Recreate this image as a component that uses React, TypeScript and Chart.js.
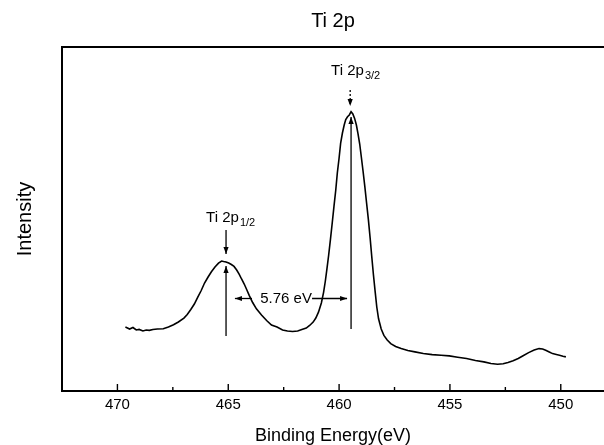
import React, { useEffect, useRef } from 'react';
import { Chart, registerables } from 'chart.js';

Chart.register(...registerables);

const FONT = '"Liberation Sans", Arial, Helvetica, sans-serif';

// Binding energy (eV) of the trace
const energy = [
  469.64, 469.45, 469.3, 469.15, 469.02, 468.85, 468.7, 468.56, 468.4, 468.2,
  467.93, 467.7, 467.47, 467.25, 467.0, 466.85, 466.69, 466.53, 466.38, 466.22,
  466.07, 465.91, 465.76, 465.6, 465.44, 465.3, 465.21, 465.1, 464.98, 464.86,
  464.74, 464.62, 464.51, 464.4, 464.28, 464.17, 464.05, 463.9, 463.73, 463.5,
  463.27, 463.05, 462.8, 462.55, 462.33, 462.1, 461.87, 461.68, 461.48, 461.33,
  461.17, 461.05, 460.93, 460.8, 460.7, 460.62, 460.55, 460.47, 460.39, 460.31,
  460.23, 460.15, 460.08, 460.0, 459.93, 459.85, 459.77, 459.7, 459.62, 459.54,
  459.46, 459.38, 459.3, 459.22, 459.15, 459.07, 459.0, 458.92, 458.84, 458.76,
  458.68, 458.6, 458.53, 458.45, 458.37, 458.3, 458.22, 458.1, 457.98, 457.83,
  457.67, 457.45, 457.2, 456.9, 456.58, 456.2, 455.8, 455.4, 455.03, 454.65,
  454.25, 453.85, 453.47, 453.15, 452.85, 452.6, 452.38, 452.15, 451.92, 451.7,
  451.45, 451.2, 450.98, 450.82, 450.68, 450.52, 450.37, 450.2, 450.06, 449.9,
  449.77,
];

// Intensity (arbitrary units)
const intensity = [
  64, 62, 63.5, 61, 61.6, 60, 61, 60.6, 61.5, 62,
  62.3, 64, 66.2, 69, 72.9, 76.5, 81.5, 87, 93.7, 100.5,
  108, 114, 119.3, 124, 127.9, 130, 129.5, 129, 128, 126.5,
  124.6, 121, 116.9, 112, 107, 101.5, 95.4, 88.5, 82.2, 76,
  70.5, 66, 63.9, 61, 60, 59.5, 60, 61.5, 62.9, 65.5,
  68.9, 73, 78.8, 88, 98.7, 110, 121.9, 136, 151.7, 168,
  184.9, 201, 218, 233, 247.8, 258, 266, 271.5, 274.3, 276,
  279.3, 277, 272.6, 266, 257.7, 247, 234.5, 220, 204.7, 188,
  171.6, 153, 135.2, 116, 98.7, 84, 72.2, 62, 55.6, 51,
  47.4, 44.5, 42.4, 40.5, 39.1, 37.5, 36.4, 35.8, 35.1, 33.8,
  32.5, 30.5, 29.1, 27.5, 26.8, 27.3, 28.5, 30.2, 32.5, 35.3,
  38.4, 41, 42.4, 42, 40.7, 39, 37.4, 36.5, 35.8, 34.8,
  34.1,
];

// Axis ranges and ticks
const xRange = [448.05, 472.5];
const yRange = [0, 344];
const minorStep = 2.5;
const majorStep = 5;

// Peak annotations
const peakNames = ['Ti 2p', 'Ti 2p'];
const peakSubscripts = ['3/2', '1/2'];
const labelEnergies = [460.36, 466.0];
const labelIntensities = [316.5, 169.5];
const downArrowEnergies = [459.5, 465.1];
const downArrowFrom = [301, 161];
const downArrowTo = [285, 137];
const downArrowDashed = [true, false];
const upArrowEnergies = [459.46, 465.1];
const upArrowFrom = [62, 55];
const upArrowTo = [274, 125];

// Spin-orbit splitting annotation
const splittingText = '5.76 eV';
const splittingTextEnergy = 462.39;
const splittingIntensity = 92.5;
const splitArrowStart = [463.93, 461.22];
const splitArrowEnd = [464.7, 459.64];

const isMajor = (v: number) => Math.abs(v / majorStep - Math.round(v / majorStep)) < 1e-6;

function drawArrow(ctx: CanvasRenderingContext2D, x1: number, y1: number, x2: number, y2: number, dashed = false) {
  ctx.beginPath();
  ctx.setLineDash(dashed ? [2, 2] : []);
  ctx.moveTo(x1, y1);
  ctx.lineTo(x2, y2);
  ctx.stroke();
  ctx.setLineDash([]);
  const a = Math.atan2(y2 - y1, x2 - x1);
  const L = 7;
  const W = 2.6;
  const c = Math.cos(a);
  const s = Math.sin(a);
  ctx.beginPath();
  ctx.moveTo(x2, y2);
  ctx.lineTo(x2 - L * c + W * s, y2 - L * s - W * c);
  ctx.lineTo(x2 - L * c - W * s, y2 - L * s + W * c);
  ctx.closePath();
  ctx.fill();
}

const annotationPlugin = {
  id: 'xpsAnnotations',
  afterDatasetsDraw(chart: any) {
    const { ctx, chartArea, scales } = chart;
    const { left, right, top, bottom } = chartArea;
    const x = scales.x;
    const y = scales.y;
    ctx.save();
    ctx.strokeStyle = '#000';
    ctx.fillStyle = '#000';

    // frame (left, top, bottom)
    ctx.lineWidth = 2;
    ctx.beginPath();
    ctx.moveTo(right, top);
    ctx.lineTo(left, top);
    ctx.lineTo(left, bottom);
    ctx.lineTo(right, bottom);
    ctx.stroke();

    // inward ticks
    ctx.lineWidth = 1.4;
    x.ticks.forEach((t: any) => {
      const px = x.getPixelForValue(t.value);
      const len = isMajor(t.value) ? 7 : 4;
      ctx.beginPath();
      ctx.moveTo(px, bottom);
      ctx.lineTo(px, bottom - len);
      ctx.stroke();
    });

    // peak arrows & labels
    ctx.lineWidth = 1.3;
    for (let i = 0; i < peakNames.length; i++) {
      const dx = x.getPixelForValue(downArrowEnergies[i]);
      drawArrow(ctx, dx, y.getPixelForValue(downArrowFrom[i]), dx, y.getPixelForValue(downArrowTo[i]), downArrowDashed[i]);
      const ux = x.getPixelForValue(upArrowEnergies[i]);
      drawArrow(ctx, ux, y.getPixelForValue(upArrowFrom[i]), ux, y.getPixelForValue(upArrowTo[i]));

      const lx = x.getPixelForValue(labelEnergies[i]);
      const ly = y.getPixelForValue(labelIntensities[i]);
      ctx.textAlign = 'left';
      ctx.textBaseline = 'alphabetic';
      ctx.font = `15px ${FONT}`;
      ctx.fillText(peakNames[i], lx, ly);
      const w = ctx.measureText(peakNames[i]).width;
      ctx.font = `11px ${FONT}`;
      ctx.fillText(peakSubscripts[i], lx + w + 1, ly + 4);
    }

    // splitting arrows
    const sy = y.getPixelForValue(splittingIntensity);
    for (let i = 0; i < splitArrowStart.length; i++) {
      drawArrow(ctx, x.getPixelForValue(splitArrowStart[i]), sy, x.getPixelForValue(splitArrowEnd[i]), sy);
    }
    ctx.font = `15px ${FONT}`;
    ctx.textAlign = 'center';
    ctx.textBaseline = 'middle';
    ctx.fillText(splittingText, x.getPixelForValue(splittingTextEnergy), sy);

    ctx.restore();
  },
};

export default function App() {
  const ref = useRef<HTMLCanvasElement>(null);

  useEffect(() => {
    const canvas = ref.current;
    if (!canvas) return;
    const chart = new Chart(canvas, {
      type: 'line',
      data: {
        datasets: [
          {
            data: energy.map((e, i) => ({ x: e, y: intensity[i] })),
            borderColor: '#000',
            borderWidth: 1.6,
            pointRadius: 0,
            tension: 0,
            fill: false,
          },
        ],
      },
      options: {
        responsive: false,
        animation: false,
        devicePixelRatio: 1,
        layout: { padding: 0 },
        font: { family: FONT },
        plugins: {
          legend: { display: false },
          tooltip: { enabled: false },
          title: {
            display: true,
            text: 'Ti 2p',
            fullSize: false,
            color: '#000',
            font: { size: 20, weight: 'normal', family: FONT, lineHeight: 1.2 },
            padding: { top: 9, bottom: 14 },
          },
        },
        scales: {
          x: {
            type: 'linear',
            reverse: true,
            min: xRange[0],
            max: xRange[1],
            grid: { display: false, drawTicks: false },
            border: { display: false },
            ticks: {
              stepSize: minorStep,
              includeBounds: false,
              autoSkip: false,
              maxRotation: 0,
              color: '#000',
              font: { size: 15, family: FONT },
              padding: 5,
              callback: (v: any) => (isMajor(Number(v)) ? String(v) : ''),
            },
            title: {
              display: true,
              text: 'Binding Energy(eV)',
              color: '#000',
              font: { size: 18, family: FONT, lineHeight: 1 },
              padding: { top: 0, bottom: 0 },
            },
            afterFit: (s: any) => {
              s.height = 54;
            },
          },
          y: {
            min: yRange[0],
            max: yRange[1],
            grid: { display: false, drawTicks: false },
            border: { display: false },
            ticks: { display: false },
            title: {
              display: true,
              text: 'Intensity',
              color: '#000',
              font: { size: 20, family: FONT, lineHeight: 1.2 },
              padding: { top: 13, bottom: 0 },
            },
            afterFit: (s: any) => {
              s.width = 62;
            },
          },
        },
      } as any,
      plugins: [annotationPlugin],
    });
    return () => chart.destroy();
  }, []);

  return (
    <div style={{ position: 'fixed', left: 0, top: 0, width: 604, height: 445, background: '#fff' }}>
      <canvas ref={ref} width={604} height={445} style={{ display: 'block' }} />
    </div>
  );
}
